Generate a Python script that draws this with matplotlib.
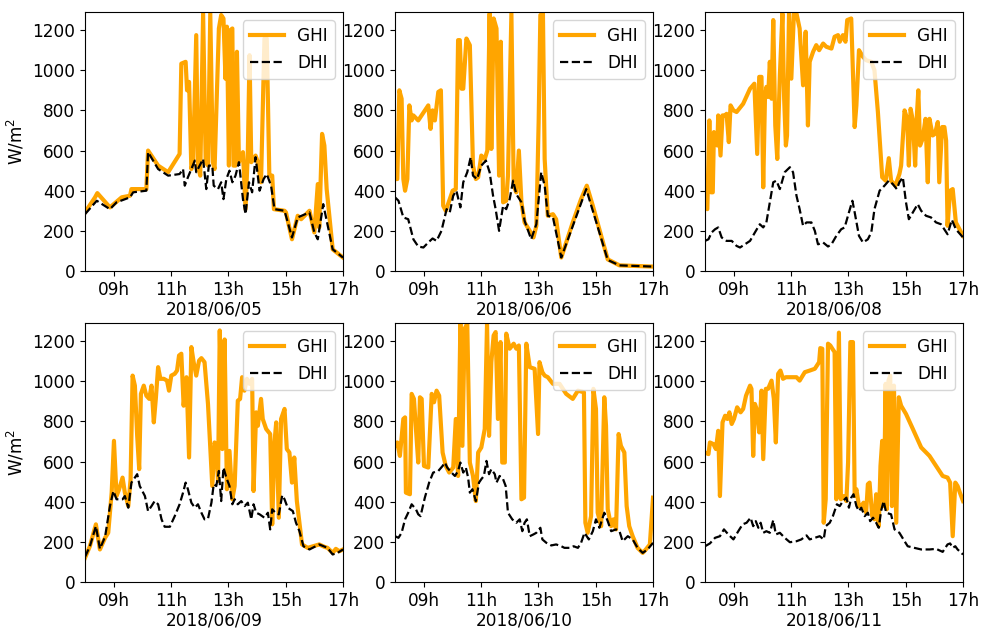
import numpy as np
import matplotlib
matplotlib.use("Agg")
import matplotlib.pyplot as plt

# irradiance traces, time in decimal hours, values in W/m2
days = ["2018/06/05", "2018/06/06", "2018/06/08", "2018/06/09", "2018/06/10", "2018/06/11"]

# --- 2018/06/05
t_ghi_05 = [8.00, 8.35, 8.43, 8.87, 9.28, 9.57, 9.62, 10.14, 10.20, 10.55, 10.90, 11.30, 11.36, 11.51, 11.56, 11.63,
            11.71, 11.77, 11.88, 11.94, 12.02, 12.12, 12.21, 12.29, 12.37, 12.46, 12.52, 12.58, 12.67, 12.75, 12.83,
            12.90, 12.95, 13.02, 13.07, 13.14, 13.18, 13.25, 13.30, 13.37, 13.51, 13.60, 13.68, 13.74, 13.80, 13.95,
            14.03, 14.14, 14.26, 14.34, 14.43, 14.53, 14.59, 14.96, 15.01, 15.22, 15.42, 15.54, 15.83, 16.00, 16.12,
            16.17, 16.27, 16.35, 16.43, 16.64, 17.00]
ghi_05 = [292, 367, 388, 317, 367, 375, 408, 408, 600, 525, 492, 583, 1033, 1042, 900, 942,
          508, 542, 1175, 525, 475, 1283, 542, 525, 1283, 542, 508, 792, 1208, 1275, 1258,
          958, 1217, 525, 1200, 1208, 525, 525, 1092, 542, 592, 308, 592, 1075, 542, 575,
          542, 442, 1158, 1158, 475, 475, 308, 300, 292, 158, 275, 258, 300, 192, 433,
          217, 683, 625, 408, 108, 67]
t_dhi_05 = [8.00, 8.41, 8.87, 9.10, 9.57, 9.68, 10.14, 10.20, 10.55, 10.90, 11.30, 11.42, 11.48, 11.59, 11.71, 11.83,
            11.88, 12.00, 12.12, 12.23, 12.32, 12.44, 12.49, 12.64, 12.75, 12.83, 12.93, 13.04, 13.14, 13.25, 13.37,
            13.51, 13.60, 13.72, 13.83, 13.95, 14.09, 14.23, 14.34, 14.49, 14.61, 14.96, 15.22, 15.42, 15.83, 16.00,
            16.12, 16.31, 16.64, 17.00]
dhi_05 = [283, 350, 308, 342, 367, 392, 400, 592, 508, 475, 483, 508, 425, 467, 508, 550,
          492, 525, 558, 408, 525, 525, 425, 408, 442, 358, 458, 500, 442, 475, 542,
          358, 283, 442, 392, 567, 400, 458, 483, 425, 308, 300, 167, 267, 292, 192,
          158, 333, 108, 67]

# --- 2018/06/06
t_ghi_06 = [8.00, 8.08, 8.15, 8.23, 8.29, 8.35, 8.43, 8.50, 8.58, 8.64, 8.81, 9.16, 9.24, 9.31, 9.39, 9.51,
            9.60, 9.68, 9.77, 9.91, 10.01, 10.12, 10.20, 10.26, 10.32, 10.38, 10.49, 10.61, 10.72, 10.82, 10.90,
            11.01, 11.13, 11.22, 11.30, 11.36, 11.44, 11.54, 11.63, 11.69, 11.77, 11.88, 11.94, 12.06, 12.14, 12.23,
            12.32, 12.41, 12.52, 12.70, 12.83, 12.93, 13.01, 13.07, 13.16, 13.22, 13.33, 13.51, 13.62, 13.80, 14.20,
            14.49, 14.69, 14.90, 15.42, 15.83, 17.00]
ghi_06 = [458, 458, 900, 858, 458, 400, 458, 825, 750, 775, 750, 825, 708, 800, 750, 892,
          900, 325, 300, 358, 400, 408, 1150, 1150, 908, 908, 1158, 1125, 525, 458, 467,
          575, 558, 600, 1283, 608, 1258, 1208, 475, 1142, 342, 350, 475, 1283, 425, 392,
          600, 342, 242, 200, 167, 225, 742, 1275, 1283, 558, 275, 283, 258, 67, 242,
          358, 425, 325, 58, 28, 22]
t_dhi_06 = [8.00, 8.12, 8.29, 8.46, 8.64, 8.81, 8.99, 9.16, 9.31, 9.45, 9.62, 9.80, 9.91, 10.03, 10.14, 10.28,
            10.38, 10.52, 10.64, 10.72, 10.86, 11.01, 11.17, 11.30, 11.42, 11.51, 11.63, 11.77, 11.88, 12.00, 12.12,
            12.23, 12.41, 12.52, 12.75, 12.93, 13.10, 13.22, 13.33, 13.51, 13.80, 14.67, 15.42, 15.83, 17.00]
dhi_06 = [367, 350, 267, 258, 158, 122, 117, 142, 162, 150, 200, 308, 292, 375, 400, 317,
          442, 492, 567, 475, 458, 525, 550, 492, 375, 308, 200, 325, 308, 358, 450,
          383, 342, 250, 158, 233, 492, 425, 275, 267, 67, 408, 55, 28, 22]

# --- 2018/06/08
t_ghi_08 = [8.00, 8.08, 8.15, 8.21, 8.27, 8.31, 8.38, 8.43, 8.46, 8.54, 8.61, 8.70, 8.75, 8.83, 8.89, 8.99,
            9.10, 9.33, 9.57, 9.72, 9.82, 9.89, 9.97, 10.03, 10.09, 10.14, 10.20, 10.26, 10.32, 10.38, 10.45,
            10.52, 10.61, 10.70, 10.76, 10.82, 10.86, 10.93, 11.01, 11.10, 11.19, 11.30, 11.42, 11.51, 11.59, 11.65,
            11.77, 11.88, 11.98, 12.12, 12.23, 12.41, 12.52, 12.64, 12.70, 12.81, 12.90, 12.96, 13.10, 13.22, 13.28,
            13.37, 13.51, 13.62, 13.80, 13.91, 14.03, 14.18, 14.30, 14.41, 14.49, 14.64, 14.78, 14.84, 14.96, 15.05,
            15.11, 15.17, 15.25, 15.33, 15.39, 15.44, 15.50, 15.59, 15.69, 15.77, 15.83, 15.94, 16.02, 16.12, 16.17,
            16.27, 16.35, 16.41, 16.46, 16.55, 16.64, 16.75, 17.00]
ghi_08 = [325, 308, 750, 392, 392, 692, 658, 625, 775, 575, 775, 775, 783, 642, 825, 800,
          792, 833, 908, 933, 583, 967, 967, 417, 858, 917, 867, 1042, 858, 1250, 725,
          558, 975, 1283, 858, 625, 675, 1283, 958, 1283, 1283, 1208, 925, 1192, 725, 1042,
          1092, 1125, 1100, 1133, 1117, 1108, 1167, 1175, 1142, 1175, 1142, 1250, 1258, 717, 825,
          1100, 1067, 1050, 1042, 1000, 792, 467, 450, 562, 450, 425, 483, 525, 800, 758,
          525, 808, 750, 525, 775, 900, 625, 658, 758, 442, 758, 675, 683, 742, 442,
          717, 717, 650, 225, 400, 408, 242, 175]
t_dhi_08 = [8.00, 8.12, 8.23, 8.35, 8.46, 8.58, 8.75, 8.93, 9.10, 9.22, 9.39, 9.57, 9.74, 9.91, 10.03, 10.14,
            10.26, 10.38, 10.49, 10.61, 10.78, 10.96, 11.07, 11.19, 11.30, 11.42, 11.54, 11.71, 11.83, 11.94, 12.12,
            12.29, 12.41, 12.58, 12.75, 12.87, 13.02, 13.14, 13.22, 13.37, 13.51, 13.68, 13.80, 13.91, 14.09, 14.26,
            14.41, 14.55, 14.69, 14.78, 14.90, 15.01, 15.11, 15.25, 15.42, 15.54, 15.71, 15.88, 16.06, 16.23, 16.46,
            16.61, 16.75, 17.00]
dhi_08 = [150, 158, 192, 208, 217, 167, 150, 150, 125, 117, 133, 150, 192, 233, 217, 242,
          342, 442, 450, 408, 492, 517, 492, 375, 308, 225, 242, 242, 200, 133, 142,
          122, 133, 175, 208, 217, 292, 350, 292, 175, 142, 158, 192, 308, 400, 425,
          450, 433, 408, 442, 467, 342, 258, 292, 333, 300, 275, 267, 242, 233, 183,
          255, 208, 167]

# --- 2018/06/09
t_ghi_09 = [8.00, 8.17, 8.38, 8.52, 8.70, 8.81, 8.93, 9.01, 9.10, 9.19, 9.31, 9.39, 9.51, 9.59, 9.66, 9.74,
            9.82, 9.89, 9.95, 10.05, 10.14, 10.24, 10.32, 10.40, 10.47, 10.55, 10.63, 10.75, 10.86, 10.93, 11.01,
            11.13, 11.21, 11.28, 11.36, 11.44, 11.54, 11.63, 11.71, 11.79, 11.88, 11.98, 12.06, 12.17, 12.29, 12.44,
            12.52, 12.58, 12.64, 12.70, 12.79, 12.87, 12.95, 13.04, 13.14, 13.22, 13.33, 13.41, 13.48, 13.56, 13.65,
            13.74, 13.83, 13.88, 13.97, 14.03, 14.14, 14.20, 14.32, 14.46, 14.53, 14.61, 14.67, 14.76, 14.84, 14.96,
            15.04, 15.13, 15.22, 15.30, 15.39, 15.57, 15.77, 16.17, 16.35, 16.46, 16.64, 16.75, 16.87, 17.00]
ghi_09 = [120, 178, 287, 162, 220, 245, 445, 703, 428, 462, 520, 445, 378, 512, 1028, 978,
          728, 562, 937, 978, 928, 912, 978, 795, 912, 1070, 1012, 1012, 1003, 953, 1028,
          1037, 1053, 1128, 1137, 878, 1020, 620, 1170, 1095, 1028, 1103, 1115, 1095, 887, 478,
          695, 670, 503, 1253, 662, 1208, 462, 653, 412, 478, 903, 912, 1020, 953, 1012,
          987, 1012, 453, 845, 778, 912, 812, 762, 737, 287, 695, 795, 320, 812, 862,
          662, 645, 495, 620, 403, 187, 170, 187, 175, 170, 145, 165, 153, 162]
t_dhi_09 = [8.00, 8.17, 8.38, 8.52, 8.70, 8.87, 8.99, 9.10, 9.31, 9.39, 9.51, 9.62, 9.74, 9.82, 9.91, 10.09,
            10.20, 10.32, 10.43, 10.55, 10.67, 10.78, 10.96, 11.13, 11.30, 11.42, 11.51, 11.59, 11.71, 11.83, 11.94,
            12.06, 12.17, 12.29, 12.41, 12.49, 12.58, 12.67, 12.75, 12.83, 12.93, 13.04, 13.14, 13.22, 13.33, 13.45,
            13.57, 13.68, 13.80, 13.88, 13.97, 14.09, 14.26, 14.38, 14.46, 14.53, 14.64, 14.76, 14.88, 14.96, 15.07,
            15.25, 15.36, 15.48, 15.62, 15.83, 16.17, 16.46, 16.64, 16.81, 17.00]
dhi_09 = [125, 178, 278, 165, 225, 378, 453, 412, 412, 428, 370, 495, 520, 537, 478, 428,
          353, 378, 403, 387, 312, 275, 275, 328, 387, 445, 495, 462, 395, 370, 387,
          345, 312, 315, 395, 487, 478, 553, 403, 570, 520, 478, 387, 412, 387, 403,
          378, 395, 312, 387, 345, 337, 320, 345, 262, 362, 345, 337, 432, 412, 370,
          353, 295, 253, 178, 162, 187, 170, 137, 145, 162]

# --- 2018/06/10
t_ghi_10 = [8.00, 8.08, 8.17, 8.29, 8.35, 8.38, 8.52, 8.58, 8.66, 8.73, 8.81, 8.87, 8.93, 9.01, 9.16, 9.28,
            9.36, 9.45, 9.54, 9.66, 9.77, 9.89, 10.03, 10.12, 10.20, 10.28, 10.35, 10.43, 10.52, 10.61, 10.72,
            10.82, 10.90, 11.01, 11.13, 11.21, 11.28, 11.36, 11.44, 11.51, 11.59, 11.68, 11.74, 11.83, 11.88, 12.00,
            12.14, 12.23, 12.32, 12.41, 12.50, 12.58, 12.70, 12.87, 12.99, 13.04, 13.14, 13.22, 13.33, 13.51, 13.74,
            13.97, 14.20, 14.38, 14.59, 14.64, 14.72, 14.84, 14.92, 15.01, 15.07, 15.19, 15.30, 15.36, 15.42, 15.54,
            15.62, 15.71, 15.80, 15.88, 16.00, 16.08, 16.17, 16.29, 16.46, 16.64, 16.75, 16.89, 17.00]
ghi_10 = [678, 695, 628, 812, 820, 445, 437, 937, 912, 762, 595, 920, 912, 578, 570, 937,
          895, 953, 928, 645, 578, 545, 570, 812, 528, 1287, 678, 1262, 1287, 595, 528,
          403, 645, 670, 762, 1287, 728, 1095, 1228, 1245, 812, 1195, 595, 595, 1237, 1162,
          1187, 1162, 1178, 412, 420, 1187, 1070, 1062, 737, 1095, 1045, 1028, 1020, 987, 987,
          937, 912, 953, 945, 295, 245, 328, 962, 862, 345, 278, 920, 778, 362, 278,
          312, 262, 737, 678, 645, 378, 278, 228, 170, 145, 162, 187, 420]
t_dhi_10 = [8.00, 8.12, 8.23, 8.35, 8.46, 8.58, 8.73, 8.81, 8.89, 9.04, 9.19, 9.33, 9.51, 9.66, 9.74, 9.82,
            9.97, 10.09, 10.20, 10.28, 10.38, 10.47, 10.55, 10.61, 10.70, 10.82, 10.93, 11.01, 11.10, 11.19, 11.28,
            11.36, 11.48, 11.54, 11.65, 11.77, 11.86, 11.94, 12.09, 12.23, 12.35, 12.44, 12.52, 12.60, 12.70, 12.83,
            12.93, 13.07, 13.14, 13.28, 13.45, 13.62, 13.80, 13.91, 14.09, 14.23, 14.38, 14.49, 14.61, 14.76, 14.90,
            15.01, 15.13, 15.30, 15.42, 15.54, 15.71, 15.83, 15.94, 16.12, 16.29, 16.46, 16.64, 16.81, 17.00]
dhi_10 = [228, 220, 245, 312, 345, 387, 362, 337, 328, 420, 495, 545, 553, 578, 595, 570,
          545, 528, 553, 595, 545, 570, 520, 445, 462, 403, 495, 512, 528, 603, 537,
          562, 537, 495, 528, 512, 478, 345, 312, 295, 312, 253, 295, 312, 228, 237,
          245, 270, 212, 195, 182, 187, 178, 170, 170, 178, 170, 195, 245, 212, 253,
          312, 270, 345, 303, 253, 262, 253, 203, 228, 212, 170, 145, 162, 195]

# --- 2018/06/11
t_ghi_11 = [8.00, 8.12, 8.17, 8.29, 8.38, 8.46, 8.52, 8.61, 8.70, 8.78, 8.85, 8.93, 9.01, 9.12, 9.24, 9.33,
            9.43, 9.57, 9.62, 9.68, 9.74, 9.82, 9.89, 9.97, 10.03, 10.12, 10.20, 10.32, 10.40, 10.47, 10.55,
            10.63, 10.72, 10.82, 11.01, 11.19, 11.30, 11.48, 11.65, 11.83, 11.98, 12.02, 12.09, 12.14, 12.21, 12.29,
            12.37, 12.44, 12.52, 12.58, 12.67, 12.74, 12.83, 12.93, 12.99, 13.07, 13.16, 13.22, 13.28, 13.37, 13.45,
            13.53, 13.62, 13.68, 13.74, 13.83, 13.91, 13.97, 14.06, 14.12, 14.18, 14.24, 14.30, 14.34, 14.40, 14.46,
            14.52, 14.59, 14.67, 14.76, 14.84, 15.01, 15.25, 15.54, 15.83, 16.06, 16.29, 16.46, 16.55, 16.64, 16.73,
            16.81, 16.89, 17.00]
ghi_11 = [645, 637, 695, 687, 662, 753, 428, 795, 828, 812, 845, 787, 812, 870, 845, 862,
          928, 978, 962, 628, 887, 853, 745, 953, 612, 962, 962, 1003, 912, 695, 1037,
          1053, 1012, 1020, 1020, 1020, 1003, 1045, 1053, 1062, 1095, 1165, 1162, 295, 412, 1187,
          1178, 1162, 1145, 412, 1242, 412, 428, 403, 595, 1195, 1195, 428, 462, 378, 378,
          395, 345, 487, 495, 328, 312, 437, 278, 578, 703, 378, 987, 362, 1003, 1028,
          378, 978, 295, 920, 878, 837, 762, 670, 628, 578, 528, 520, 495, 228, 495,
          478, 445, 403]
t_dhi_11 = [8.00, 8.17, 8.35, 8.52, 8.66, 8.81, 8.99, 9.16, 9.31, 9.45, 9.59, 9.68, 9.77, 9.86, 9.94, 10.03,
            10.14, 10.26, 10.38, 10.47, 10.61, 10.78, 10.96, 11.19, 11.36, 11.54, 11.65, 11.83, 12.00, 12.14, 12.21,
            12.35, 12.46, 12.60, 12.70, 12.81, 12.93, 13.02, 13.10, 13.18, 13.28, 13.37, 13.45, 13.57, 13.68, 13.76,
            13.86, 13.97, 14.06, 14.14, 14.23, 14.32, 14.49, 14.61, 14.78, 14.96, 15.07, 15.30, 15.54, 15.83, 16.06,
            16.29, 16.46, 16.55, 16.64, 16.73, 16.81, 17.00]
dhi_11 = [178, 192, 220, 228, 262, 237, 212, 253, 287, 295, 320, 278, 303, 270, 295, 245,
          253, 245, 308, 237, 245, 220, 198, 203, 212, 232, 212, 220, 228, 212, 278,
          295, 328, 387, 378, 403, 420, 370, 420, 437, 378, 353, 370, 328, 345, 303,
          320, 295, 270, 353, 403, 345, 337, 262, 245, 203, 178, 170, 162, 162, 165,
          150, 187, 192, 170, 178, 162, 137]

ghi_t = [t_ghi_05, t_ghi_06, t_ghi_08, t_ghi_09, t_ghi_10, t_ghi_11]
ghi = [ghi_05, ghi_06, ghi_08, ghi_09, ghi_10, ghi_11]
dhi_t = [t_dhi_05, t_dhi_06, t_dhi_08, t_dhi_09, t_dhi_10, t_dhi_11]
dhi = [dhi_05, dhi_06, dhi_08, dhi_09, dhi_10, dhi_11]

plt.rcParams['font.size'] = 12.2
fig, axes = plt.subplots(2, 3, figsize=(9.85, 6.33), dpi=100)
plt.subplots_adjust(left=0.0863, right=0.9777, bottom=0.0806, top=0.981, wspace=0.2016, hspace=0.2008)

for i, ax in enumerate(axes.flat):
    ax.plot(ghi_t[i], ghi[i], color='orange', lw=3, label='GHI')
    ax.plot(dhi_t[i], dhi[i], color='black', ls='--', lw=1.6, label='DHI')
    ax.set_xlim(8, 17)
    ax.set_ylim(0, 1290)
    ax.set_xticks([9, 11, 13, 15, 17])
    ax.set_xticklabels(['09h', '11h', '13h', '15h', '17h'])
    ax.set_yticks(np.arange(0, 1201, 200))
    ax.set_xlabel(days[i], labelpad=1.5)
    ax.legend(loc='upper right')
    if i % 3 == 0:
        ax.set_ylabel('W/m$^2$')

plt.savefig('out.png')
